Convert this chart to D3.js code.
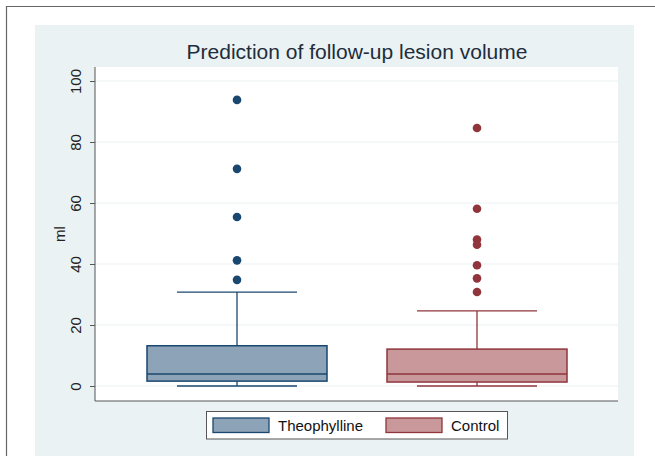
<!DOCTYPE html>
<html>
<head>
<meta charset="utf-8">
<script src="https://cdn.jsdelivr.net/npm/d3@7"></script>
<style>
  body { margin: 0; background: #fff; }
  text { font-family: "Liberation Sans", Arial, sans-serif; }
</style>
</head>
<body>
<svg width="655" height="456"></svg>
<script>
// summary stats per group (ml)
var groups = ["Theophylline", "Control"];
var q1 = [1.6, 1.3];
var median = [3.9, 3.9];
var q3 = [13.2, 12.1];
var whiskerLo = [0, 0];
var whiskerHi = [30.8, 24.6];
var outliers = [
    [93.8, 71.2, 55.4, 41.2, 34.8],
    [84.6, 58.1, 48.0, 46.3, 39.6, 35.3, 30.8]
];
var yTicks = [0, 20, 40, 60, 80, 100];

var strokeCol = ["#1a476f", "#90353b"];
var fillCol = ["#8da3b8", "#c8989b"];

var svg = d3.select("svg"),
    width = +svg.attr("width"),
    height = +svg.attr("height");

// outer frame + stata background
svg.append("path")
    .attr("d", "M6.5,456 V6.5 H655")
    .attr("fill", "none")
    .attr("stroke", "#666")
    .attr("stroke-width", 1.2);

svg.append("rect")
    .attr("x", 35).attr("y", 25)
    .attr("width", 599).attr("height", 440)
    .attr("fill", "#eaf2f3");

var plot = {left: 95, right: 618, top: 67, bottom: 401};

svg.append("rect")
    .attr("x", plot.left).attr("y", plot.top)
    .attr("width", plot.right - plot.left)
    .attr("height", plot.bottom - plot.top)
    .attr("fill", "#fff");

var y = d3.scaleLinear()
    .domain([0, 100])
    .range([386, 81]);

var x = d3.scaleBand()
    .domain(groups)
    .range([117, 597])
    .paddingInner(0.25)
    .paddingOuter(0.125);

// gridlines
svg.append("g")
    .selectAll("line")
    .data(yTicks)
    .enter().append("line")
        .attr("x1", plot.left).attr("x2", plot.right)
        .attr("y1", function(d) { return y(d); })
        .attr("y2", function(d) { return y(d); })
        .attr("stroke", "#eaf2f3")
        .attr("stroke-width", 1.2);

// y axis
var yAxis = svg.append("g")
    .attr("transform", "translate(" + plot.left + ",0)")
    .call(d3.axisLeft(y).tickValues(yTicks).tickSize(5).tickPadding(12));
yAxis.select(".domain").attr("d", "M0," + plot.top + "V" + plot.bottom).attr("stroke", "#555");
yAxis.selectAll(".tick line").attr("stroke", "#555");
yAxis.selectAll(".tick text")
    .attr("font-size", 15)
    .attr("fill", "#222")
    .attr("x", null).attr("dy", null)
    .attr("text-anchor", "middle")
    .attr("transform", "translate(-19,0) rotate(-90)")
    .attr("y", 5);

// x axis line
svg.append("line")
    .attr("x1", plot.left).attr("x2", plot.right)
    .attr("y1", plot.bottom).attr("y2", plot.bottom)
    .attr("stroke", "#555");

svg.append("text")
    .attr("transform", "translate(65,234) rotate(-90)")
    .attr("text-anchor", "middle")
    .attr("font-size", 15)
    .attr("fill", "#222")
    .text("ml");

svg.append("text")
    .attr("x", 357).attr("y", 59)
    .attr("text-anchor", "middle")
    .attr("font-size", 21)
    .attr("fill", "#1e2d3c")
    .text("Prediction of follow-up lesion volume");

// boxes
var boxes = svg.append("g")
    .selectAll("g")
    .data(groups)
    .enter().append("g");

boxes.each(function(d, i) {
    var g = d3.select(this),
        cx = x(d) + x.bandwidth() / 2,
        capW = x.step() / 4;

    g.append("line")
        .attr("x1", cx).attr("x2", cx)
        .attr("y1", y(whiskerHi[i])).attr("y2", y(q3[i]))
        .attr("stroke", strokeCol[i]).attr("stroke-width", 1.3);
    g.append("line")
        .attr("x1", cx).attr("x2", cx)
        .attr("y1", y(whiskerLo[i])).attr("y2", y(q1[i]))
        .attr("stroke", strokeCol[i]).attr("stroke-width", 1.3);
    [whiskerHi[i], whiskerLo[i]].forEach(function(v) {
        g.append("line")
            .attr("x1", cx - capW).attr("x2", cx + capW)
            .attr("y1", y(v)).attr("y2", y(v))
            .attr("stroke", strokeCol[i]).attr("stroke-width", 1.3);
    });

    g.append("rect")
        .attr("x", x(d)).attr("width", x.bandwidth())
        .attr("y", y(q3[i])).attr("height", y(q1[i]) - y(q3[i]))
        .attr("fill", fillCol[i])
        .attr("stroke", strokeCol[i]).attr("stroke-width", 1.5);
    g.append("line")
        .attr("x1", x(d)).attr("x2", x(d) + x.bandwidth())
        .attr("y1", y(median[i])).attr("y2", y(median[i]))
        .attr("stroke", strokeCol[i]).attr("stroke-width", 1.5);

    g.selectAll("circle")
        .data(outliers[i])
        .enter().append("circle")
            .attr("cx", cx)
            .attr("cy", function(v) { return y(v); })
            .attr("r", 4.3)
            .attr("fill", strokeCol[i]);
});

// legend
var legend = svg.append("g");
legend.append("rect")
    .attr("x", 206.5).attr("y", 411.5)
    .attr("width", 301).attr("height", 27.5)
    .attr("fill", "#fff")
    .attr("stroke", "#555");

var legX = [213, 386], legTextX = [278, 451];
groups.forEach(function(d, i) {
    legend.append("rect")
        .attr("x", legX[i]).attr("y", 418)
        .attr("width", 56).attr("height", 14.5)
        .attr("fill", fillCol[i])
        .attr("stroke", strokeCol[i]).attr("stroke-width", 1.3);
    legend.append("text")
        .attr("x", legTextX[i]).attr("y", 431)
        .attr("font-size", 15)
        .attr("fill", "#111")
        .text(d);
});
</script>
</body>
</html>
